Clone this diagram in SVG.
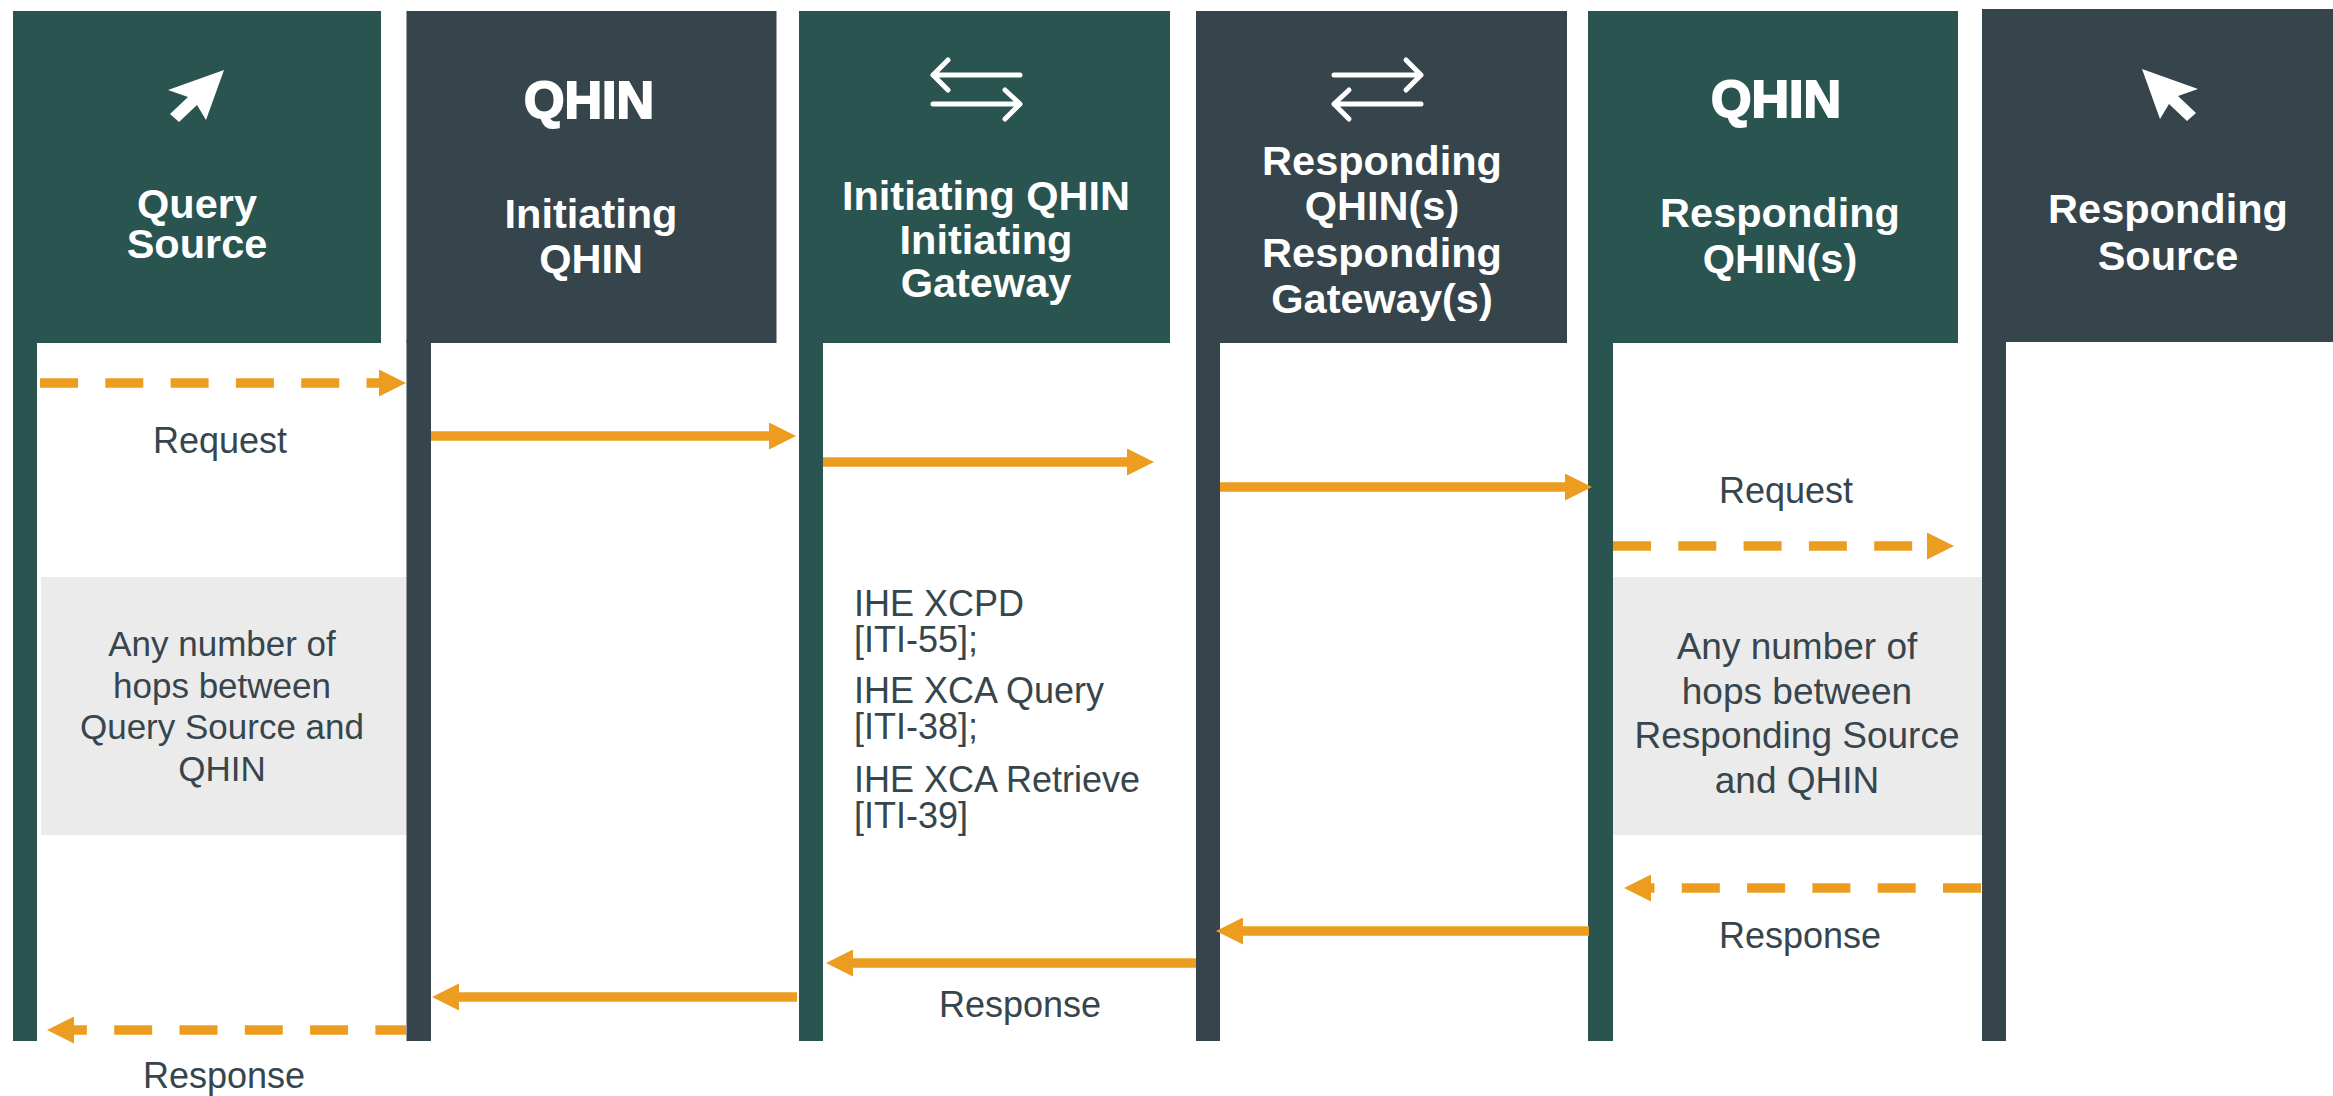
<svg xmlns="http://www.w3.org/2000/svg" width="2333" height="1096" viewBox="0 0 2333 1096">
<style>
.g{fill:#2A544F}
.s{fill:#36444B}
.hd{font-family:"Liberation Sans",Arial,sans-serif;font-weight:bold;font-size:41.5px;fill:#FFFFFF;text-anchor:middle}
.logo{font-family:"Liberation Sans",Arial,sans-serif;font-weight:bold;font-size:52px;fill:#FFFFFF;stroke:#FFFFFF;stroke-width:2;text-anchor:middle}
.ic{fill:none;stroke:#FFFFFF;stroke-width:5;stroke-linecap:round;stroke-linejoin:round}
.cur{fill:#FFFFFF}
.lbl{font-family:"Liberation Sans",Arial,sans-serif;font-size:36px;fill:#37454C;text-anchor:middle}
.ihe{font-family:"Liberation Sans",Arial,sans-serif;font-size:36px;fill:#37454C}
.n1{font-family:"Liberation Sans",Arial,sans-serif;font-size:35px;fill:#37454C;text-anchor:middle}
.n2{font-family:"Liberation Sans",Arial,sans-serif;font-size:37px;fill:#37454C;text-anchor:middle}
.note{fill:#EBEBEB}
.ln{stroke:#EC9D1F;stroke-width:9.5;fill:none;marker-end:url(#ah)}
.dash{stroke-dasharray:38 27.3}
</style>
<defs>
<marker id="ah" markerUnits="userSpaceOnUse" markerWidth="27" markerHeight="27" refX="9" refY="13.5" orient="auto"><path d="M0,0 L27,13.5 L0,27 Z" fill="#EC9D1F"/></marker>
</defs>
<rect width="2333" height="1096" fill="#FFFFFF"/>

<g id="note-query-hops">
<rect class="note" x="41" y="577" width="366" height="258"/>
<text class="n1" x="222" y="656">Any number of</text>
<text class="n1" x="222" y="698">hops between</text>
<text class="n1" x="222" y="739">Query Source and</text>
<text class="n1" x="222" y="781">QHIN</text>
</g>
<g id="note-responding-hops">
<rect class="note" x="1613" y="577" width="369" height="258"/>
<text class="n2" x="1797" y="659">Any number of</text>
<text class="n2" x="1797" y="704">hops between</text>
<text class="n2" x="1797" y="748">Responding Source</text>
<text class="n2" x="1797" y="793">and QHIN</text>
</g>

<g id="node-query-source">
<rect class="g" x="13" y="11" width="368" height="332"/>
<rect class="g" x="13" y="340" width="24" height="701"/>
<polygon class="cur" points="224,70 168,90 188,97 170,114 179,122 197,105 206,120"/>
<text class="hd" x="197" y="218">Query</text>
<text class="hd" x="197" y="258">Source</text>
</g>

<g id="node-initiating-qhin">
<rect class="s" x="406.5" y="11" width="370" height="332"/>
<rect class="s" x="406.5" y="340" width="24.5" height="701"/>
<text class="logo" x="589" y="118">QHIN</text>
<text class="hd" x="591" y="228">Initiating</text>
<text class="hd" x="591" y="273">QHIN</text>
</g>

<g id="node-initiating-gateway">
<rect class="g" x="799" y="11" width="371" height="332"/>
<rect class="g" x="799" y="340" width="24" height="701"/>
<path class="ic" d="M933,75 H1020 M948,60 L933,75 L948,90"/>
<path class="ic" d="M933,104 H1020 M1005,90 L1020,104 L1005,119"/>
<text class="hd" x="986" y="210">Initiating QHIN</text>
<text class="hd" x="986" y="253.5">Initiating</text>
<text class="hd" x="986" y="297">Gateway</text>
<text class="ihe" x="854" y="616">IHE XCPD</text>
<text class="ihe" x="854" y="652">[ITI-55];</text>
<text class="ihe" x="854" y="703">IHE XCA Query</text>
<text class="ihe" x="854" y="739">[ITI-38];</text>
<text class="ihe" x="854" y="792">IHE XCA Retrieve</text>
<text class="ihe" x="854" y="828">[ITI-39]</text>
</g>

<g id="node-responding-gateway">
<rect class="s" x="1196" y="11" width="371" height="332"/>
<rect class="s" x="1196" y="340" width="24" height="701"/>
<path class="ic" d="M1334,75 H1421 M1406,60 L1421,75 L1406,90"/>
<path class="ic" d="M1334,104 H1421 M1349,90 L1334,104 L1349,119"/>
<text class="hd" x="1382" y="175">Responding</text>
<text class="hd" x="1382" y="220">QHIN(s)</text>
<text class="hd" x="1382" y="267">Responding</text>
<text class="hd" x="1382" y="313">Gateway(s)</text>
</g>

<g id="node-responding-qhin">
<rect class="g" x="1588" y="11" width="370" height="332"/>
<rect class="g" x="1588" y="340" width="25" height="701"/>
<text class="logo" x="1776" y="117">QHIN</text>
<text class="hd" x="1780" y="227">Responding</text>
<text class="hd" x="1780" y="273">QHIN(s)</text>
</g>

<g id="node-responding-source">
<rect class="s" x="1982" y="9" width="351" height="333"/>
<rect class="s" x="1982" y="340" width="24" height="701"/>
<polygon class="cur" points="2142,69 2198,89 2178,96 2196,113 2187,121 2169,104 2160,119"/>
<text class="hd" x="2168" y="223">Responding</text>
<text class="hd" x="2168" y="270">Source</text>
</g>

<g id="connectors">
<path class="ln dash" d="M40,383 H388"/>
<path class="ln" d="M431,436 H778"/>
<path class="ln" d="M823,462 H1136"/>
<path class="ln" d="M1220,487 H1574"/>
<path class="ln dash" d="M1613,546 H1936"/>
<path class="ln dash" d="M1981,888 H1642"/>
<path class="ln" d="M1589,931 H1234"/>
<path class="ln" d="M1196,963 H844"/>
<path class="ln" d="M797,997 H450"/>
<path class="ln dash" d="M406,1030 H65" style="stroke-dashoffset:7.4"/>
<text class="lbl" x="220" y="453">Request</text>
<text class="lbl" x="1786" y="503">Request</text>
<text class="lbl" x="1800" y="948">Response</text>
<text class="lbl" x="1020" y="1017">Response</text>
<text class="lbl" x="224" y="1088">Response</text>
</g>
</svg>
